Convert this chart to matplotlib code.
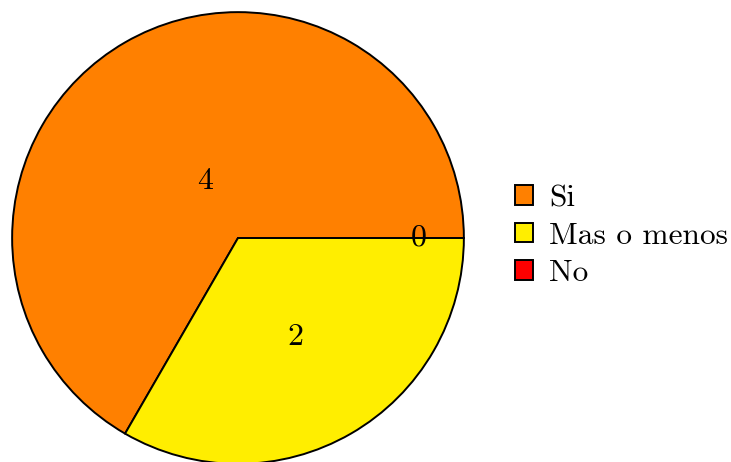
import matplotlib
matplotlib.use('Agg')
import matplotlib.pyplot as plt
import numpy as np

plt.rcParams['font.family'] = 'cmr10'
plt.rcParams['mathtext.fontset'] = 'cm'
plt.rcParams['axes.formatter.use_mathtext'] = True

etiquetas = ['Si', 'Mas o menos', 'No']
valores = [4, 2, 0]
colores = ['#FF8000', '#FFEE00', '#FF0000']
dist_etiq = [0.29, 0.51, 0.80]

fig = plt.figure(figsize=(7.31, 4.62), dpi=100)
ax = fig.add_axes([11/731, -3/462, 454/731, 454/462])

wedges, _ = ax.pie(valores, colors=colores, startangle=0, counterclock=True,
                   radius=1, wedgeprops=dict(edgecolor='black', linewidth=1.4))
ax.set_xlim(-1.005, 1.005)
ax.set_ylim(-1.005, 1.005)
ax.set_aspect('equal')
ax.axis('off')

for w, v, d in zip(wedges, valores, dist_etiq):
    ang = np.deg2rad((w.theta1 + w.theta2) / 2)
    ax.text(d * np.cos(ang), d * np.sin(ang), str(v), ha='center', va='center',
            fontsize=23)

fig.legend(wedges, etiquetas, loc='center left', bbox_to_anchor=(515/731, 1 - 236/462),
           frameon=False, fontsize=22.6, handlelength=0.58, handleheight=0.58,
           handletextpad=0.5, labelspacing=0.32, borderpad=0, borderaxespad=0)

plt.savefig('out.png', dpi=100)
